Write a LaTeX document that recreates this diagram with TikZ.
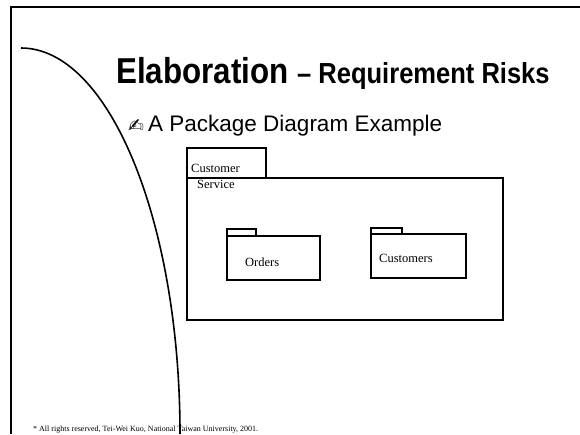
\documentclass[tikz,border=0pt]{standalone}
\usepackage{fontspec}
\setmainfont{Liberation Serif}
\setsansfont{Liberation Sans}
\newfontfamily\dingfont{DejaVu Sans}
\begin{document}
\begin{tikzpicture}
[x=1pt,y=-1pt,
frame/.style={line width=1.6pt},
pkg/.style={draw,line width=1.3pt},
txt/.style={inner sep=0pt,anchor=base west},
small/.style={txt,font=\fontsize{12.5}{16}\selectfont}]
\useasboundingbox (0,0) rectangle (580,434);
\draw[frame] (11,434) -- (11,7) -- (580,7);
\draw[frame] (21,48) arc[start angle=270,end angle=360,x radius=159,y radius=386];
\node[txt,xscale=0.87,font=\sffamily\bfseries\fontsize{36}{40}\selectfont] (title) at (116,83) {Elaboration};
\node[txt,xscale=0.88,font=\sffamily\bfseries\fontsize{29}{32}\selectfont] (subtitle) at (297,83) {– Requirement Risks};
\node[txt,font=\dingfont\fontsize{19}{22}\selectfont] (pen) at (128,132) {✍};
\node[txt,font=\sffamily\fontsize{22.5}{26}\selectfont] (bullet) at (148,131) {A Package Diagram Example};
\draw[pkg] (187,148) rectangle (266,178);
\draw[pkg] (187,178) rectangle (503,320);
\node[small] (custA) at (191,172) {Customer};
\node[small] (custB) at (197,188) {Service};
\draw[pkg] (227,229) rectangle (256,236);
\draw[pkg] (227,236) rectangle (320,280);
\node[small] (orders) at (245,266) {Orders};
\draw[pkg] (371,228) rectangle (402,234);
\draw[pkg] (371,234) rectangle (466,278);
\node[small] (customers) at (379,262) {Customers};
\node[txt,font=\fontsize{8}{9}\selectfont] (rights) at (33,431) {* All rights reserved, Tei-Wei Kuo, National Taiwan University, 2001.};
\end{tikzpicture}
\end{document}
